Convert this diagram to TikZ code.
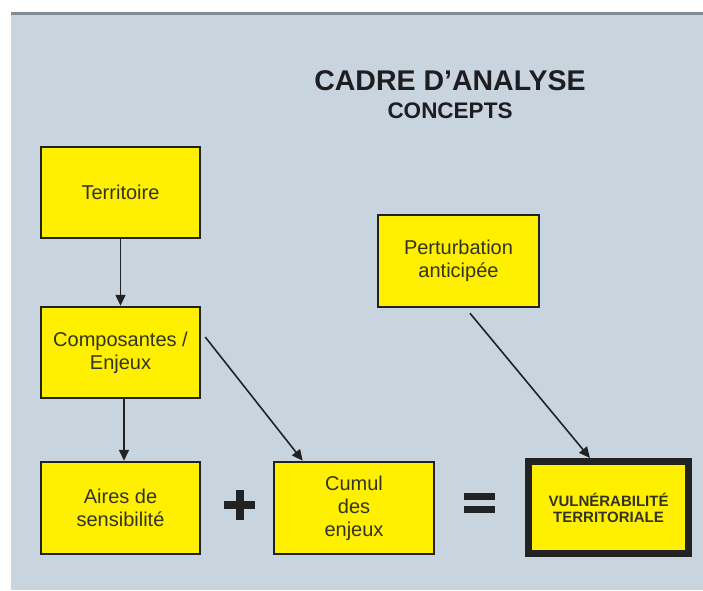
\documentclass[tikz,border=0pt]{standalone}
\usepackage{fontspec}
\setmainfont{Liberation Sans}
\usetikzlibrary{arrows.meta}
\definecolor{bg}{HTML}{C8D5DF}
\definecolor{topline}{HTML}{7E8C97}
\definecolor{boxyellow}{HTML}{FFF000}
\definecolor{boxline}{HTML}{222222}
\definecolor{txt}{HTML}{333322}
\definecolor{titletxt}{HTML}{1E1E22}
\definecolor{arrowc}{HTML}{222222}
\begin{document}
\begin{tikzpicture}[x=1pt,y=-1pt,
  box/.style={draw=boxline, line width=2.5pt, fill=boxyellow,
    minimum width=159pt, minimum height=91pt, inner sep=0pt,
    align=center, font=\fontsize{20}{23}\selectfont, text=txt},
  bigbox/.style={draw=boxline, line width=7pt, fill=boxyellow,
    minimum width=160pt, minimum height=92pt, inner sep=0pt,
    align=center, font=\bfseries\fontsize{15}{16}\selectfont, text=txt},
  arr/.style={draw=arrowc, line width=1.6pt, -{Triangle[length=11pt,width=10pt]}},
  op/.style={fill=boxline, draw=none}]
\useasboundingbox (0,0) rectangle (703,590);
% background
\fill[white] (0,0) rectangle (703,590);
\fill[bg] (11,12) rectangle (703,590);
\fill[topline] (11,12) rectangle (703,14.5);
% title
\node[anchor=base, inner sep=0pt, text=titletxt, font=\bfseries\fontsize{28.5}{30}\selectfont] (title) at (450,90) {CADRE D’ANALYSE};
\node[anchor=base, inner sep=0pt, text=titletxt, font=\bfseries\fontsize{22.5}{24}\selectfont] (sub) at (450,118) {CONCEPTS};
% boxes
\node[box] (terr) at (120.5,192.5) {Territoire};
\node[box] (comp) at (120.5,352.5) {Composantes /\\Enjeux};
\node[box, minimum height=92pt] (aires) at (120.5,508) {Aires de\\sensibilité};
\node[box, minimum width=160pt, minimum height=92pt] (cumul) at (354,508) {Cumul\\des\\enjeux};
\node[box, minimum width=161pt, minimum height=92pt] (pert) at (458.5,261) {Perturbation\\anticipée};
\node[bigbox] (vuln) at (608.5,507.5) {VULNÉRABILITÉ\\TERRITORIALE};
% operators
\fill[op] (224,501) rectangle (255,509);
\fill[op] (235.5,490) rectangle (243.5,520);
\fill[op] (464,492.5) rectangle (495,500);
\fill[op] (464,505.5) rectangle (495,513);
% arrows
\draw[arr] (terr.south) -- (comp.north);
\draw[arr] ([xshift=3.5pt]comp.south) -- ([xshift=3.5pt]aires.north);
\draw[arr] ([xshift=4pt,yshift=15.5pt]comp.east) -- ([xshift=30pt]cumul.north west);
\draw[arr] ([xshift=11.5pt,yshift=-5pt]pert.south) -- ([xshift=-18.5pt]vuln.north);
\end{tikzpicture}
\end{document}
